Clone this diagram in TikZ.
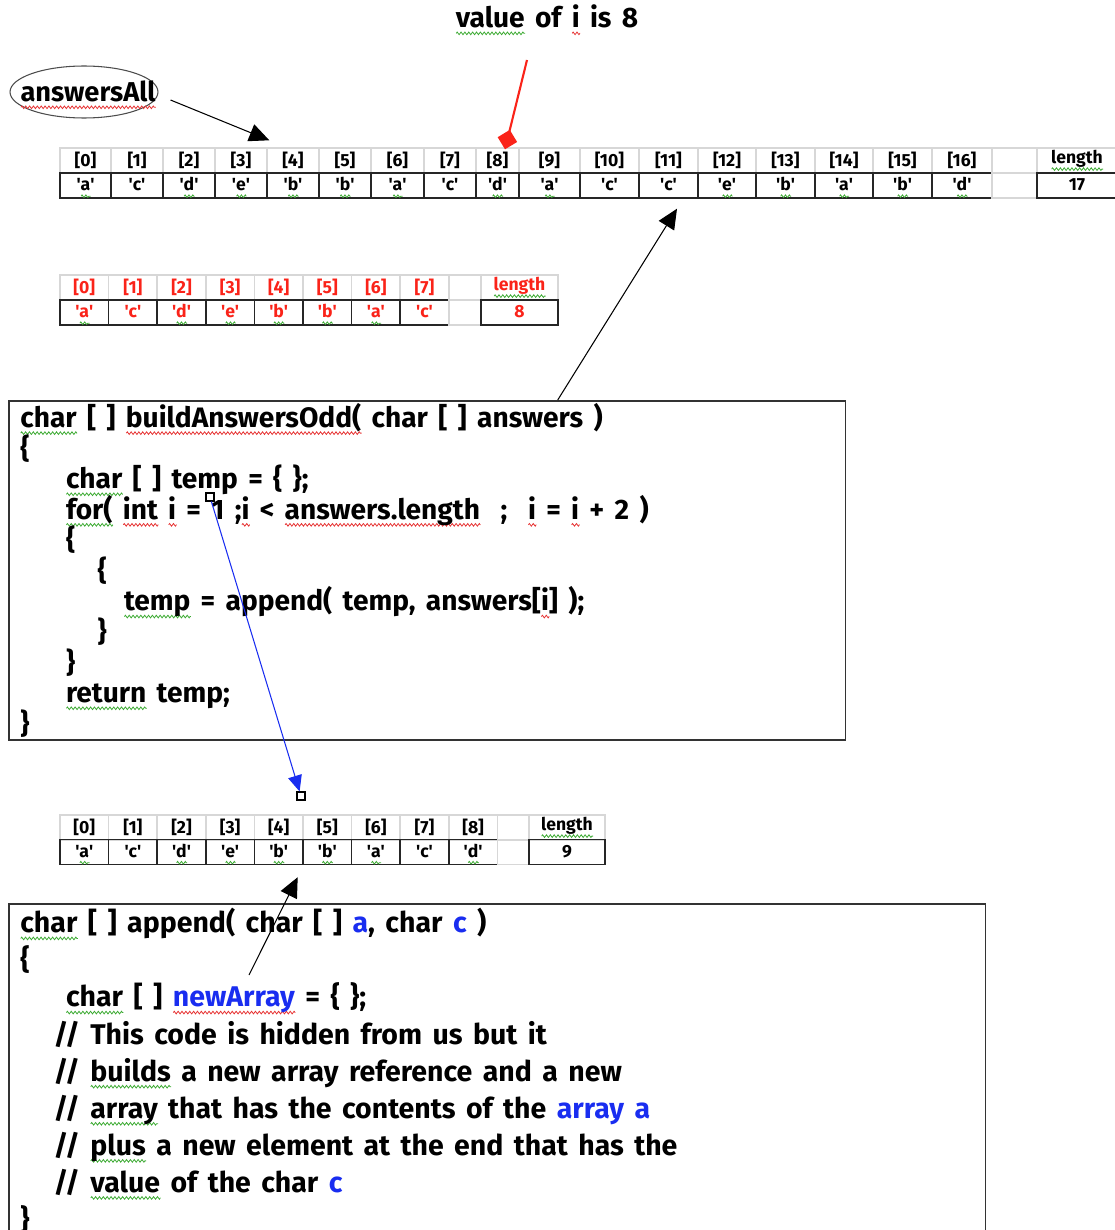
\documentclass[tikz,border=0pt]{standalone}
\usepackage{fontspec}
\setmainfont{Fira Sans}[WordSpace=1.55]
\usepackage{xcolor}
\usetikzlibrary{shapes, arrows.meta, positioning, decorations.pathmorphing}
\definecolor{sqgreen}{RGB}{60,170,50}
\definecolor{sqred}{RGB}{230,50,50}
\definecolor{codeblue}{RGB}{25,45,240}
\definecolor{arrred}{RGB}{250,35,25}
\definecolor{hdrgray}{RGB}{215,215,215}
\newsavebox{\sqbox}
\newlength{\sqlen}
\newcommand{\squig}[2]{\sbox{\sqbox}{#2}\setlength{\sqlen}{\wd\sqbox}%
  \rlap{\tikz[baseline=0pt, x=1pt, y=1pt]\draw[#1, line width=0.45pt, decorate,
    decoration={zigzag, segment length=2.2pt, amplitude=0.75pt}] (0,-3.2) -- (\sqlen,-3.2);}%
  \usebox{\sqbox}}
\newcommand{\gsq}[1]{\squig{sqgreen}{#1}}
\newcommand{\rsq}[1]{\squig{sqred}{#1}}
\newcommand{\blu}[1]{\textcolor{codeblue}{#1}}
\newcommand{\cella}{\textquotesingle\gsq{a}\textquotesingle}
\newcommand{\cellb}{\textquotesingle\gsq{b}\textquotesingle}
\newcommand{\cellc}{\textquotesingle c\textquotesingle}
\newcommand{\celld}{\textquotesingle\gsq{d}\textquotesingle}
\newcommand{\celle}{\textquotesingle\gsq{e}\textquotesingle}
\newcommand{\cellfont}{\bfseries\fontsize{10}{12}\selectfont}
\newcommand{\oddfont}{\bfseries\fontsize{16}{17.4}\selectfont\lineskiplimit=-20pt\relax}
\newcommand{\appfont}{\bfseries\fontsize{16.2}{21.1}\selectfont\lineskiplimit=-20pt\relax}
\newcommand{\notefont}{\bfseries\fontsize{16}{20}\selectfont}

\begin{document}
\begin{tikzpicture}[x=0.02cm, y=-0.02cm,
    idxcell/.style={draw=hdrgray, line width=0.8pt, inner sep=0pt, minimum height=0.5cm, font=\cellfont},
    valcell/.style={draw=black!85, line width=0.8pt, inner sep=0pt, minimum height=0.5cm,
                    text height=7.3pt, text depth=1.5pt, font=\cellfont},
    gapcell/.style={draw=hdrgray, line width=0.8pt, inner sep=0pt, minimum height=0.5cm},
    codebox/.style={draw=black!80, line width=0.9pt, inner sep=0pt, anchor=north west},
    codetext/.style={anchor=north west, align=left, inner sep=0pt},
    handle/.style={draw=black, fill=white, line width=0.6pt, minimum size=0.16cm, inner sep=0pt},
    blkarrow/.style={draw=black, line width=0.6pt, -{Triangle[length=0.4cm, width=0.36cm]}}]
  \useasboundingbox (0,0) rectangle (1115,1230);

  \node[font=\notefont] (ival) at (547,20) {\gsq{value} of \rsq{i} is 8};
  \node[draw=black!70, ellipse, line width=0.6pt, minimum width=2.96cm, minimum height=1.04cm,
        inner sep=0pt] (ansring) at (84,92) {};
  \node[font=\bfseries\fontsize{15.5}{18}\selectfont] (ans) at (88,95) {\rsq{answersAll}};

  \foreach \xa/\xb/\ch [count=\n from 0] in {60/111/a, 111/163/c, 163/215/d, 215/267/e, 267/319/b,
      319/371/b, 371/424/a, 424/476/c, 476/519/d, 519/580/a, 580/639/c, 639/698/c, 698/756/e,
      756/815/b, 815/873/a, 873/932/b, 932/992/d}
  {
    \pgfmathsetmacro\cw{(\xb-\xa)*0.02}
    \node[idxcell, minimum width=\cw cm] (top-h\n) at ({(\xa+\xb)/2},160.5) {[\n]};
    \node[valcell, minimum width=\cw cm] (top-v\n) at ({(\xa+\xb)/2},185.5) {\csname cell\ch\endcsname};
  }
  \node[gapcell, minimum width=0.9cm] (top-hgap) at (1014.5,160.5) {};
  \node[gapcell, minimum width=0.9cm] (top-vgap) at (1014.5,185.5) {};
  \node[idxcell, minimum width=1.6cm] (top-hlen) at (1077,160.5) {\gsq{length}};
  \node[valcell, minimum width=1.6cm] (top-vlen) at (1077,185.5) {17};

  \foreach \ch [count=\n from 0] in {a,c,d,e,b,b,a,c}
  {
    \node[idxcell, text=arrred, minimum width=0.972cm] (odd-h\n) at ({84.3+48.6*\n},287.5) {[\n]};
    \node[valcell, text=arrred, minimum width=0.972cm] (odd-v\n) at ({84.3+48.6*\n},312.5) {\csname cell\ch\endcsname};
  }
  \node[gapcell, minimum width=0.64cm] (odd-hgap) at (465,287.5) {};
  \node[gapcell, minimum width=0.64cm] (odd-vgap) at (465,312.5) {};
  \node[idxcell, text=arrred, minimum width=1.54cm] (odd-hlen) at (519.5,287.5) {\gsq{length}};
  \node[valcell, text=arrred, minimum width=1.54cm] (odd-vlen) at (519.5,312.5) {8};

  \node[codebox, minimum width=16.74cm, minimum height=6.78cm] (oddbox) at (8,400) {};
  \node[codetext, font=\oddfont] (oddcode) at (20,403) {%
    \gsq{char} [ ] \rsq{buildAnswersOdd(} char [ ] answers )\\
    \{\\
    \hspace*{26pt}\gsq{char} [ ] temp = \{ \};\\
    \hspace*{26pt}\gsq{for(} \rsq{int} \rsq{i} = 1 ;\rsq{i} < \rsq{answers.length}\ \ ;\ \ \rsq{i} = \rsq{i} + 2 )\\
    \hspace*{26pt}\{\\
    \hspace*{44pt}\{\\
    \hspace*{59pt}\gsq{temp} = append( temp, answers[\rsq{i}] );\\
    \hspace*{44pt}\}\\
    \hspace*{26pt}\}\\
    \hspace*{26pt}\gsq{return} temp;\\
    \}};

  \foreach \ch [count=\n from 0] in {a,c,d,e,b,b,a,c,d}
  {
    \node[idxcell, minimum width=0.972cm] (bot-h\n) at ({84.3+48.6*\n},827.5) {[\n]};
    \node[valcell, minimum width=0.972cm] (bot-v\n) at ({84.3+48.6*\n},852) {\csname cell\ch\endcsname};
  }
  \node[gapcell, minimum width=0.63cm] (bot-hgap) at (513,827.5) {};
  \node[gapcell, minimum width=0.63cm] (bot-vgap) at (513,852) {};
  \node[idxcell, minimum width=1.52cm] (bot-hlen) at (567,827.5) {\gsq{length}};
  \node[valcell, minimum width=1.52cm] (bot-vlen) at (567,852) {9};

  \node[codebox, minimum width=19.54cm, minimum height=6.74cm] (appbox) at (8,903) {};
  \node[codetext, font=\appfont] (appcode) at (20,908) {%
    \gsq{char} [ ] append( char [ ] \blu{a}, char \blu{c} )\\
    \{\\
    \hspace*{26pt}\gsq{char} [ ] \textcolor{codeblue}{\rsq{newArray}} = \{ \};\\
    \hspace*{19pt}// This code is hidden from us but it\\
    \hspace*{19pt}// \gsq{builds} a new array reference and a new\\
    \hspace*{19pt}// \gsq{array} that has the contents of the \blu{array a}\\
    \hspace*{19pt}// \gsq{plus} a new element at the end that has the\\
    \hspace*{19pt}// \gsq{value} of the char \blu{c}\\
    \}};
  \coordinate (apptail) at (249,975);

  \node[handle] (hstart) at (210,497) {};
  \node[handle] (hend) at (301,796) {};

  \draw[blkarrow] ([shift={(12,8)}]ansring.east) -- ([shift={(3,-7)}]top-h4.north west);
  \draw[arrred, line width=1.2pt, -{Diamond[length=0.4cm, width=0.4cm]}]
    ([shift={(-20,40)}]ival.center) -- ([shift={(7.5,2)}]top-h8.north);
  \draw[blkarrow] ([shift={(130.5,0)}]oddbox.north) -- ([shift={(8.5,10)}]top-v11.south);
  \draw[codeblue, line width=0.6pt, -{Triangle[length=0.32cm, width=0.28cm]}] (hstart) -- (hend);
  \draw[blkarrow] (apptail) -- ([shift={(19,12)}]bot-v4.south);
\end{tikzpicture}
\end{document}
